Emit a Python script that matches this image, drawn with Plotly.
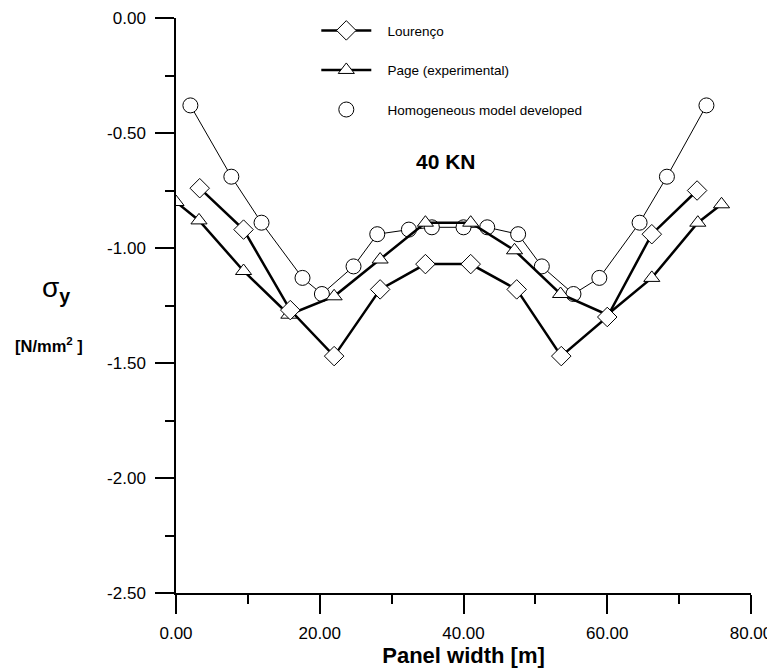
import plotly.graph_objects as go

# Lourenço
lour_x = [3.3, 9.4, 15.9, 22.0, 28.4, 34.7, 41.0, 47.4, 53.6, 60.0, 66.2, 72.5]
lour_y = [-0.74, -0.92, -1.27, -1.47, -1.18, -1.07, -1.07, -1.18, -1.47, -1.30, -0.94, -0.75]

# Page (experimental)
page_x = [0.0, 3.2, 9.4, 15.7, 22.0, 28.4, 34.7, 41.0, 47.1, 53.5, 60.0, 66.2, 72.6, 75.9]
page_y = [-0.80, -0.88, -1.10, -1.29, -1.21, -1.05, -0.89, -0.89, -1.01, -1.20, -1.29, -1.13, -0.89, -0.81]

# Homogeneous model developed
homo_x = [2.0, 7.7, 11.9, 17.6, 20.3, 24.7, 28.0, 32.4, 35.6, 40.0, 43.3, 47.6, 50.9, 55.3, 58.9, 64.5, 68.3, 73.8]
homo_y = [-0.38, -0.69, -0.89, -1.13, -1.20, -1.08, -0.94, -0.92, -0.91, -0.91, -0.91, -0.94, -1.08, -1.20, -1.13, -0.89, -0.69, -0.38]

x_ticks = [0, 20, 40, 60, 80]
x_tick_text = ["0.00", "20.00", "40.00", "60.00", "80.00"]
y_ticks = [0, -0.5, -1.0, -1.5, -2.0, -2.5]
y_tick_text = ["0.00", "-0.50", "-1.00", "-1.50", "-2.00", "-2.50"]

FONT = "Liberation Sans, Arial, sans-serif"
PAD = "\u00a0\u00a0\u00a0"

fig = go.Figure()

fig.add_trace(go.Scatter(
    x=homo_x, y=homo_y, mode="lines+markers", showlegend=False,
    line=dict(color="black", width=1),
    marker=dict(symbol="circle", size=15, color="white", line=dict(color="black", width=1)),
))
fig.add_trace(go.Scatter(
    x=page_x, y=page_y, mode="lines+markers", name=PAD + "Page (experimental)",
    legendgroup="b", legendrank=2,
    line=dict(color="black", width=2.5),
    marker=dict(symbol="triangle-up", size=14, color="white", line=dict(color="black", width=1)),
))
fig.add_trace(go.Scatter(
    x=lour_x, y=lour_y, mode="lines+markers", name=PAD + "Lourenço",
    legendgroup="a", legendrank=1,
    line=dict(color="black", width=2.5),
    marker=dict(symbol="diamond", size=15, color="white", line=dict(color="black", width=1)),
))
fig.add_trace(go.Scatter(
    x=[None], y=[None], mode="markers", name=PAD + "Homogeneous model developed",
    legendgroup="c", legendrank=3,
    marker=dict(symbol="circle", size=15, color="white", line=dict(color="black", width=1)),
))

fig.add_annotation(x=37.5, y=-0.626, xref="x", yref="y", text="<b>40 KN</b>",
                   showarrow=False, font=dict(family=FONT, size=21, color="black"))
fig.add_annotation(x=-0.237, y=0.527, xref="paper", yref="paper", xanchor="left",
                   text="σ<sub><b>y</b></sub>", showarrow=False,
                   font=dict(family=FONT, size=28, color="black"))
fig.add_annotation(x=-0.283, y=0.431, xref="paper", yref="paper", xanchor="left",
                   text="<b>[N/mm<sup>2</sup> ]</b>", showarrow=False,
                   font=dict(family=FONT, size=16.5, color="black"))

fig.update_layout(
    width=767, height=661,
    margin=dict(l=168, r=24, t=10, b=76, autoexpand=False),
    paper_bgcolor="white", plot_bgcolor="white",
    font=dict(family=FONT, size=17, color="black"),
    showlegend=True,
    legend=dict(
        x=0.244, y=1.005, xanchor="left", yanchor="top",
        traceorder="grouped", tracegroupgap=19, itemwidth=50,
        font=dict(family=FONT, size=13.5, color="black"),
        bgcolor="rgba(0,0,0,0)",
    ),
    xaxis=dict(
        range=[0, 80], tickvals=x_ticks, ticktext=x_tick_text, automargin=False,
        showline=True, linecolor="black", linewidth=1.5,
        ticks="outside", ticklen=19, tickwidth=1.5, tickcolor="black",
        minor=dict(dtick=10, ticks="outside", ticklen=9, tickwidth=1.5, tickcolor="black"),
        showgrid=False, zeroline=False,
        ticklabelstandoff=5,
        title=dict(text="<b>Panel width [m]</b>", font=dict(family=FONT, size=22), standoff=3),
    ),
    yaxis=dict(
        range=[-2.5, 0], tickvals=y_ticks, ticktext=y_tick_text, automargin=False,
        showline=True, linecolor="black", linewidth=1.5,
        ticks="outside", ticklen=19, tickwidth=1.5, tickcolor="black",
        minor=dict(dtick=0.25, ticks="outside", ticklen=9, tickwidth=1.5, tickcolor="black"),
        showgrid=False, zeroline=False,
        ticklabelstandoff=6,
    ),
)

fig.write_html("out.html")
